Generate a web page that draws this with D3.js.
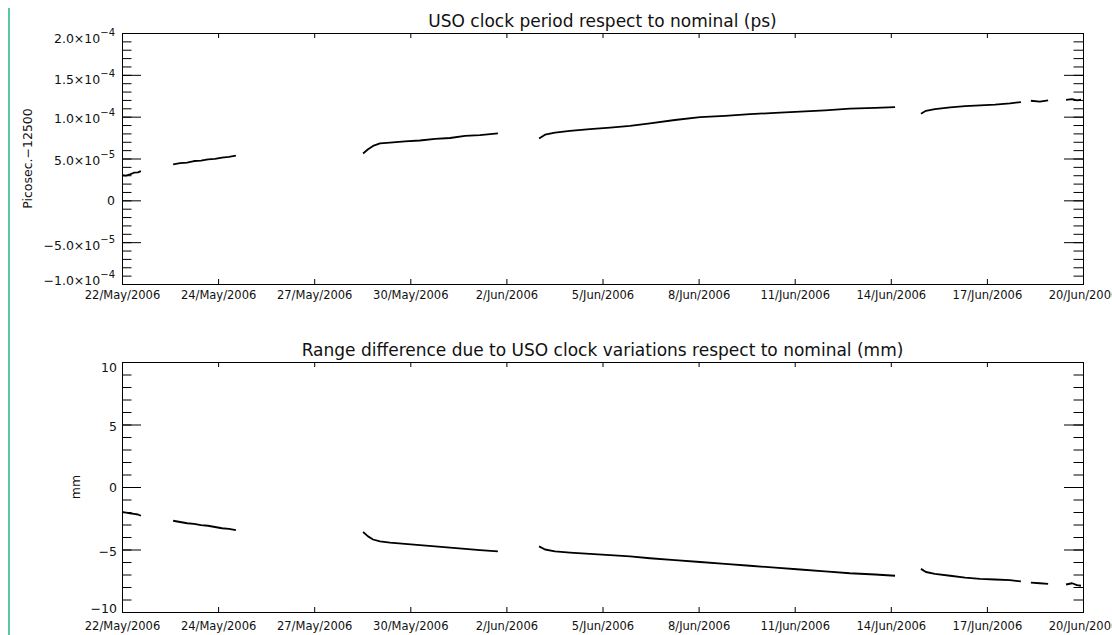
<!DOCTYPE html>
<html>
<head>
<meta charset="utf-8">
<script src="https://cdn.jsdelivr.net/npm/d3@7"></script>
<style>
  body { margin: 0; background: #fff; }
  svg text { font-family: "DejaVu Sans", sans-serif; fill: #111; }
</style>
</head>
<body>
<svg id="chart"></svg>
<script>
// days since 22/May/2006 00:00 UTC, null marks a gap in the data
const dayOffsets = [
    0.10, 0.22, 0.34, 0.46, 0.58, 0.67, null,
    1.64, 1.85, 2.06, 2.27, 2.48, 2.69, 2.90, 3.11, 3.32, 3.53, null,
    7.36, 7.51, 7.66, 7.87, 8.17, 8.62, 9.07, 9.53, 9.98, 10.43, 10.88, 11.42, null,
    12.66, 12.84, 13.14, 13.59, 14.19, 14.80, 15.40, 16.00, 16.75, 17.51, 18.26, 19.01,
    19.77, 20.52, 21.27, 22.02, 22.78, 23.38, null,
    24.16, 24.31, 24.58, 25.04, 25.49, 25.94, 26.39, 26.84, 27.17, null,
    27.47, 27.74, 27.99, null,
    28.53, 28.71, 28.86, 28.98
];

// clock period - 12500 ps, in units of 1e-5 ps
const periodValues = [
    3.0, 2.95, 3.1, 3.3, 3.35, 3.5, null,
    4.3, 4.45, 4.5, 4.7, 4.75, 4.9, 4.95, 5.1, 5.2, 5.35, null,
    5.6, 6.1, 6.5, 6.8, 6.9, 7.05, 7.15, 7.35, 7.45, 7.7, 7.8, 8.0, null,
    7.4, 7.85, 8.1, 8.3, 8.5, 8.7, 8.9, 9.2, 9.6, 9.95, 10.1, 10.3,
    10.45, 10.6, 10.75, 10.95, 11.05, 11.15, null,
    10.35, 10.7, 10.9, 11.1, 11.25, 11.35, 11.45, 11.6, 11.75, null,
    11.9, 11.8, 11.95, null,
    12.0, 12.1, 11.95, 12.05
];

// range difference, mm
const rangeValues = [
    -2.0, -2.05, -2.1, -2.15, -2.2, -2.3, null,
    -2.7, -2.8, -2.9, -2.95, -3.05, -3.1, -3.2, -3.3, -3.35, -3.45, null,
    -3.6, -3.95, -4.2, -4.35, -4.45, -4.55, -4.65, -4.75, -4.85, -4.95, -5.05, -5.15, null,
    -4.75, -5.0, -5.15, -5.25, -5.35, -5.45, -5.55, -5.7, -5.85, -6.0, -6.15, -6.3,
    -6.45, -6.6, -6.75, -6.9, -7.0, -7.1, null,
    -6.55, -6.8, -6.95, -7.1, -7.25, -7.35, -7.4, -7.45, -7.55, null,
    -7.65, -7.7, -7.75, null,
    -7.8, -7.7, -7.85, -7.9
];

const xTickLabels = ['22/May/2006', '24/May/2006', '27/May/2006', '30/May/2006', '2/Jun/2006',
    '5/Jun/2006', '8/Jun/2006', '11/Jun/2006', '14/Jun/2006', '17/Jun/2006', '20/Jun/2006'];

const periodTicks = [-10, -5, 0, 5, 10, 15, 20];
const periodTickMant = ['\u22121.0\u00d710', '\u22125.0\u00d710', '0', '5.0\u00d710', '1.0\u00d710', '1.5\u00d710', '2.0\u00d710'];
const periodTickExp = ['\u22124', '\u22125', '', '\u22125', '\u22124', '\u22124', '\u22124'];

const rangeTicks = [-10, -5, 0, 5, 10];
const rangeTickMant = ['\u221210', '\u22125', '0', '5', '10'];
const rangeTickExp = ['', '', '', '', ''];

window.addEventListener('DOMContentLoaded', e => {
    let width = 1112;
    let height = 635;
    let plotLeft = 122;
    let plotRight = 1083;

    let svg = d3.select('#chart').attr('width', width).attr('height', height);

    // the thin green bar on the left edge of the page
    svg.append('line')
        .attr('x1', 9).attr('x2', 9)
        .attr('y1', 8).attr('y2', height)
        .attr('stroke', '#5cc79c')
        .attr('stroke-width', 2);

    let baseDay = Date.UTC(2006, 4, 22);
    let toDate = d => new Date(baseDay + d * 864e5);
    let xDomain = [0.1, 29.04];
    let xScale = d3.scaleUtc()
        .domain(xDomain.map(toDate))
        .range([plotLeft, plotRight]);
    let xTickDates = xTickLabels.map((l, i) =>
        toDate(xDomain[0] + i * (xDomain[1] - xDomain[0]) / (xTickLabels.length - 1)));

    let noDomain = g => g.select('.domain').remove();

    let drawPanel = (p) => {
        let yScale = d3.scaleLinear().domain(p.domain).range([p.bottom, p.top]);
        let g = svg.append('g');
        let minor = d3.range(p.domain[0], p.domain[1] + 0.001, p.minorStep);

        // y ticks, left and right, pointing inward
        g.append('g').attr('transform', 'translate(' + plotLeft + ',0)')
            .call(d3.axisLeft(yScale).tickValues(minor).tickSize(-9.5).tickFormat(''))
            .call(noDomain);
        g.append('g').attr('transform', 'translate(' + plotLeft + ',0)')
            .call(d3.axisLeft(yScale).tickValues(p.ticks).tickSize(-19).tickFormat(''))
            .call(noDomain);
        g.append('g').attr('transform', 'translate(' + plotRight + ',0)')
            .call(d3.axisRight(yScale).tickValues(minor).tickSize(-9.5).tickFormat(''))
            .call(noDomain);
        g.append('g').attr('transform', 'translate(' + plotRight + ',0)')
            .call(d3.axisRight(yScale).tickValues(p.ticks).tickSize(-19).tickFormat(''))
            .call(noDomain);

        // x ticks, bottom with labels and top without
        g.append('g').attr('transform', 'translate(0,' + p.bottom + ')')
            .call(d3.axisBottom(xScale).tickValues(xTickDates).tickSize(-5).tickPadding(p.xLabelPad)
                .tickFormat((d, i) => xTickLabels[i]))
            .call(noDomain)
            .call(a => a.selectAll('text')
                .style('font-size', '11.5px')
                .style('font-family', '"DejaVu Sans", sans-serif')
                .attr('fill', '#111'));
        g.append('g').attr('transform', 'translate(0,' + p.top + ')')
            .call(d3.axisTop(xScale).tickValues(xTickDates).tickSize(-5).tickFormat(''))
            .call(noDomain);

        g.selectAll('.tick line').attr('stroke', '#000');

        g.append('rect')
            .attr('x', plotLeft + 0.5)
            .attr('y', p.top + 0.5)
            .attr('width', plotRight - plotLeft)
            .attr('height', p.bottom - p.top)
            .attr('fill', 'none')
            .attr('stroke', '#000')
            .attr('stroke-width', 1);

        // y tick labels, with raised exponents
        let lab = g.append('g').attr('text-anchor', 'end').style('font-size', '12.5px');
        p.ticks.forEach((v, i) => {
            let t = lab.append('text')
                .attr('x', plotLeft - p.labelGap)
                .attr('y', yScale(v) + p.labelShift[i])
                .text(p.mant[i]);
            if (p.exp[i]) {
                t.append('tspan').attr('dy', -7).style('font-size', '10px').text(p.exp[i]);
            }
        });

        // data trace
        let line = d3.line()
            .defined((d, i) => d != null && dayOffsets[i] != null)
            .x((d, i) => xScale(toDate(dayOffsets[i])))
            .y(d => yScale(d));
        g.append('path')
            .datum(p.values)
            .attr('d', line)
            .attr('fill', 'none')
            .attr('stroke', '#000')
            .attr('stroke-width', 1.8)
            .attr('stroke-linejoin', 'round');

        g.append('text')
            .attr('x', (plotLeft + plotRight) / 2)
            .attr('y', p.top - 6)
            .attr('text-anchor', 'middle')
            .style('font-size', '17px')
            .text(p.title);

        g.append('text')
            .attr('transform', 'translate(' + p.yTitleX + ',' + (p.top + p.bottom) / 2 + ') rotate(-90)')
            .attr('text-anchor', 'middle')
            .style('font-size', '12.5px')
            .text(p.yTitle);
    };

    drawPanel({
        top: 33, bottom: 284,
        domain: [-10, 20], minorStep: 1,
        ticks: periodTicks, mant: periodTickMant, exp: periodTickExp,
        labelGap: 7, labelShift: [1, 8, 5, 6, 6, 9, 10],
        xLabelPad: 7,
        values: periodValues,
        title: 'USO clock period respect to nominal (ps)',
        yTitle: 'Picosec.\u221212500', yTitleX: 31.5
    });

    drawPanel({
        top: 362, bottom: 612,
        domain: [-10, 10], minorStep: 1,
        ticks: rangeTicks, mant: rangeTickMant, exp: rangeTickExp,
        labelGap: 5, labelShift: [1, 6, 5, 6, 9.5],
        xLabelPad: 9.5,
        values: rangeValues,
        title: 'Range difference due to USO clock variations respect to nominal (mm)',
        yTitle: 'mm', yTitleX: 79.5
    });
});
</script>
</body>
</html>
